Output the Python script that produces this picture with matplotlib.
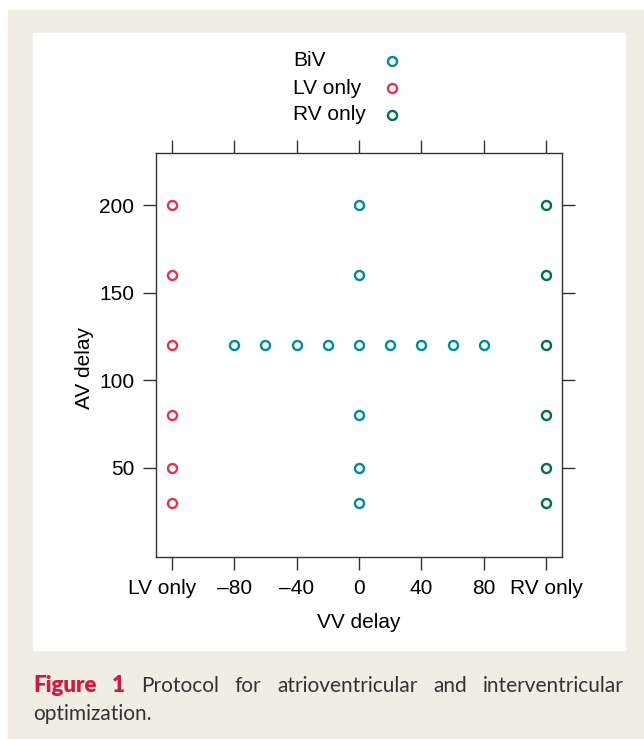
import matplotlib.pyplot as plt
from matplotlib.patches import Rectangle
from matplotlib.lines import Line2D
from matplotlib.transforms import ScaledTranslation

# data
vv_ticks = [-120, -80, -40, 0, 40, 80, 120]
vv_labels = ["LV only", "\u201380", "\u201340", "0", "40", "80", "RV only"]
av_ticks = [50, 100, 150, 200]

biv_vv = [0, 0, 0, 0, 0, 0, -80, -60, -40, -20, 20, 40, 60, 80]
biv_av = [30, 50, 80, 120, 160, 200, 120, 120, 120, 120, 120, 120, 120, 120]
lv_vv = [-120] * 6
lv_av = [30, 50, 80, 120, 160, 200]
rv_vv = [120] * 6
rv_av = [30, 50, 80, 120, 160, 200]

series = [
    ("BiV", biv_vv, biv_av, "#00899b"),
    ("LV only", lv_vv, lv_av, "#e2334f"),
    ("RV only", rv_vv, rv_av, "#006f4e"),
]

W, H = 644, 739
plt.rcParams['font.family'] = ['Liberation Sans', 'DejaVu Sans']

fig = plt.figure(figsize=(W / 100, H / 100), dpi=100, facecolor="white")


def px(x, y):
    # pixel coords (from top-left) -> figure fraction
    return x / W, 1 - y / H


# beige frame and white panel
fig.add_artist(Rectangle(px(8, H), (W - 8) / W, (H - 10) / H,
                         transform=fig.transFigure, color="#f0ede3", zorder=-2))
fig.add_artist(Rectangle(px(33, 650), (625 - 33) / W, (650 - 33) / H,
                         transform=fig.transFigure, color="white", zorder=-1))

l, b = px(156, 557)
r, t = px(562, 153)
ax = fig.add_axes([l, b, r - l, t - b])
ax.set_facecolor("white")

for name, xs, ys, col in series:
    ax.plot(xs, ys, ls="none", marker="o", ms=6.5, mfc="none", mec=col, mew=1.7)

ax.set_xlim(-130, 130)
ax.set_ylim(-1, 230)
ax.set_xticks(vv_ticks)
ax.set_xticklabels(vv_labels)
ax.set_yticks(av_ticks)
ax.tick_params(direction="out", length=9.5, width=1, color="#333333",
               labelsize=15, pad=6, top=True, right=True)
for s in ax.spines.values():
    s.set_color("#333333")
    s.set_linewidth(1)

# the "LV only" label sits a little left of its tick in the original
lab = ax.get_xticklabels()[0]
lab.set_transform(lab.get_transform() + ScaledTranslation(-0.09, 0, fig.dpi_scale_trans))

fig.text(*px(359, 622), "VV delay", ha="center", va="center", fontsize=15)
fig.text(*px(84, 368), "AV delay", ha="center", va="center", rotation=90, fontsize=15)

# legend drawn by hand: labels left-aligned, markers to the right
for i, (name, xs, ys, col) in enumerate(series):
    y = 61 + i * 27
    fig.text(*px(293, y), name, ha="left", va="center", fontsize=15)
    mx, my = px(392, y)
    fig.add_artist(Line2D([mx], [my], transform=fig.transFigure, marker="o", ms=6.5,
                          mfc="none", mec=col, mew=1.7, ls="none"))

# caption, first line justified between the panel edges
cap_font = ['Lato', 'DejaVu Sans']
line1 = [("Figure", True), ("1", True), ("Protocol", False), ("for", False),
         ("atrioventricular", False), ("and", False), ("interventricular", False)]
texts = []
for w, bold in line1:
    texts.append(fig.text(0, px(0, 686)[1], w, ha="left", va="center",
                          fontsize=16 if bold else 15,
                          fontweight="heavy" if bold else "normal",
                          color="#d6173f" if bold else "#333333", family=cap_font))
fig.canvas.draw()
ren = fig.canvas.get_renderer()
widths = [tx.get_window_extent(ren).width for tx in texts]
x0, x1 = 33, 624
gap = (x1 - x0 - sum(widths)) / (len(texts) - 1)
x = x0
for tx, wd in zip(texts, widths):
    tx.set_x(x / W)
    x += wd + gap
fig.text(*px(33, 714), "optimization.", ha="left", va="center", fontsize=15,
         color="#333333", family=cap_font)

fig.savefig("out.png", dpi=100, facecolor="white")
